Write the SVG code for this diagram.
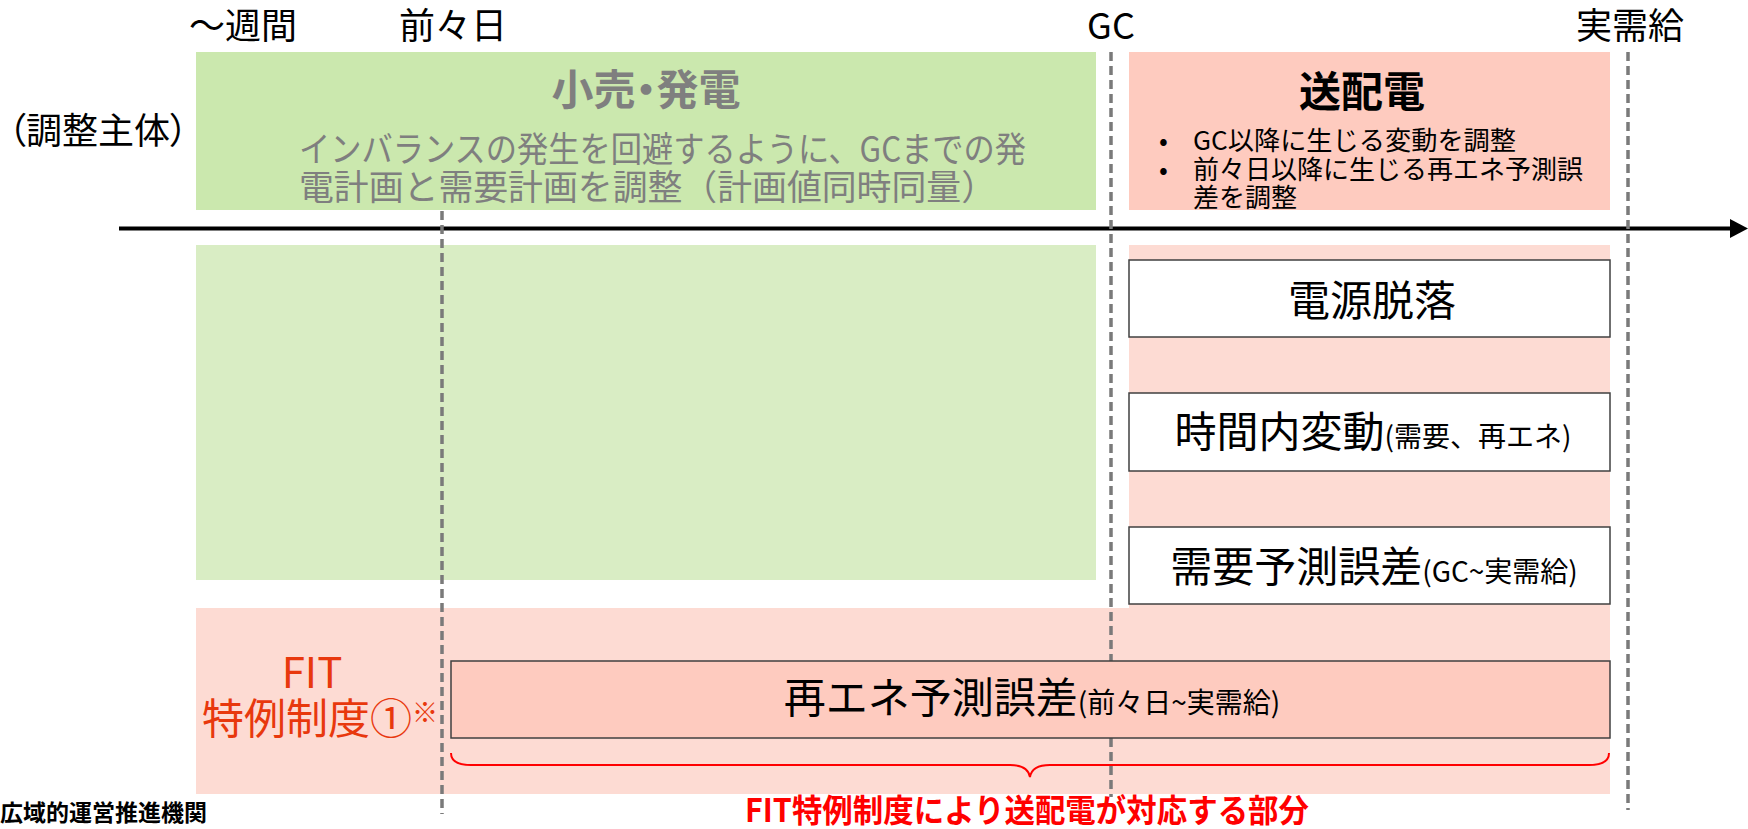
<svg xmlns="http://www.w3.org/2000/svg" width="1748" height="829" viewBox="0 0 1748 829">
<style>
text{font-family:"Noto Sans CJK JP","Noto Sans",sans-serif;}
.lbl{font-size:36px;fill:#000;}
.gray{fill:#7f7f7f;}
.box{fill:#fff;stroke:#404040;stroke-width:1.5;}
.big{font-size:42px;fill:#000;}
.sm{font-size:28px;}
.dash{stroke:#7a7a7a;stroke-width:3.5;stroke-dasharray:9 5;fill:none;}
.fit{fill:#e8380d;}
.palt{font-feature-settings:"palt";}
</style>
<rect width="1748" height="829" fill="#fff"/>

<g id="panels">
<rect x="196" y="52" width="900" height="158" fill="#cbe8ae"/>
<rect x="1129" y="52" width="481" height="158" fill="#fecbbf"/>
<rect x="196" y="245" width="900" height="335" fill="#d9edc4"/>
<rect x="1129" y="245" width="481" height="364" fill="#fddbd3"/>
<rect x="196" y="608" width="1414" height="186" fill="#fddbd3"/>
</g>

<g id="connectors">
<line x1="119" y1="228.5" x2="1734" y2="228.5" stroke="#000" stroke-width="4"/>
<polygon points="1730,219 1748,228.5 1730,238" fill="#000"/>
<line class="dash" x1="442" y1="211" x2="442" y2="814"/>
<line class="dash" x1="1111" y1="52" x2="1111" y2="797"/>
<line class="dash" x1="1628" y1="52" x2="1628" y2="810"/>
<path d="M451,753 Q451,765 471,765 L1010,765 Q1028,765 1030,777 Q1032,765 1050,765 L1589,765 Q1609,765 1609,753" fill="none" stroke="#ff0000" stroke-width="2"/>
</g>

<g id="time-labels">
<text class="lbl" x="243" y="39" text-anchor="middle">～週間</text>
<text class="lbl" x="453" y="39" text-anchor="middle">前々日</text>
<text class="lbl" x="1111" y="39" text-anchor="middle">GC</text>
<text class="lbl" x="1630" y="39" text-anchor="middle">実需給</text>
<text class="lbl palt" x="98" y="144" text-anchor="middle">（調整主体）</text>
</g>

<g id="node-kouri">
<text x="646" y="105" text-anchor="middle" font-size="42" font-weight="bold" class="gray palt">小売・発電</text>
<text x="299" y="162" font-size="35" class="gray" textLength="727" lengthAdjust="spacingAndGlyphs">インバランスの発生を回避するように、GCまでの発</text>
<text x="299" y="200" font-size="35" class="gray" textLength="697" lengthAdjust="spacingAndGlyphs">電計画と需要計画を調整（計画値同時同量）</text>
</g>

<g id="node-souhaiden">
<text x="1362" y="107" text-anchor="middle" font-size="42" font-weight="bold">送配電</text>
<text x="1159" y="150" font-size="26">•</text>
<text x="1193" y="150" font-size="26" textLength="323" lengthAdjust="spacingAndGlyphs">GC以降に生じる変動を調整</text>
<text x="1159" y="179" font-size="26">•</text>
<text x="1193" y="179" font-size="26" textLength="390" lengthAdjust="spacingAndGlyphs">前々日以降に生じる再エネ予測誤</text>
<text x="1193" y="207" font-size="26">差を調整</text>
</g>

<g id="node-dengen">
<rect class="box" x="1129" y="260" width="481" height="77"/>
<text class="big" x="1372" y="316" text-anchor="middle">電源脱落</text>
</g>

<g id="node-jikan">
<rect class="box" x="1129" y="393" width="481" height="78"/>
<text class="big" x="1373" y="447" text-anchor="middle">時間内変動<tspan class="sm">(需要、再エネ)</tspan></text>
</g>

<g id="node-juyou">
<rect class="box" x="1129" y="527" width="481" height="77"/>
<text class="big" x="1374" y="582" text-anchor="middle">需要予測誤差<tspan class="sm">(GC~実需給)</tspan></text>
</g>

<g id="node-fit">
<text class="fit" x="312" y="688" text-anchor="middle" font-size="42">FIT</text>
<text class="fit" x="202" y="734" font-size="42">特例制度①</text>
<text class="fit" x="412" y="722" font-size="26">※</text>
</g>

<g id="node-saiene">
<rect x="451" y="661" width="1159" height="77" fill="#fecbbf" stroke="#404040" stroke-width="1.5"/>
<text class="big" x="1032" y="713" text-anchor="middle">再エネ予測誤差<tspan class="sm">(前々日~実需給)</tspan></text>
</g>

<g id="note">
<text x="745" y="822" font-size="32" font-weight="bold" fill="#ff0000" textLength="564" lengthAdjust="spacingAndGlyphs">FIT特例制度により送配電が対応する部分</text>
</g>

<g id="logo">
<text x="0" y="821" font-size="23" font-weight="bold" fill="#000">広域的運営推進機関</text>
</g>
</svg>
